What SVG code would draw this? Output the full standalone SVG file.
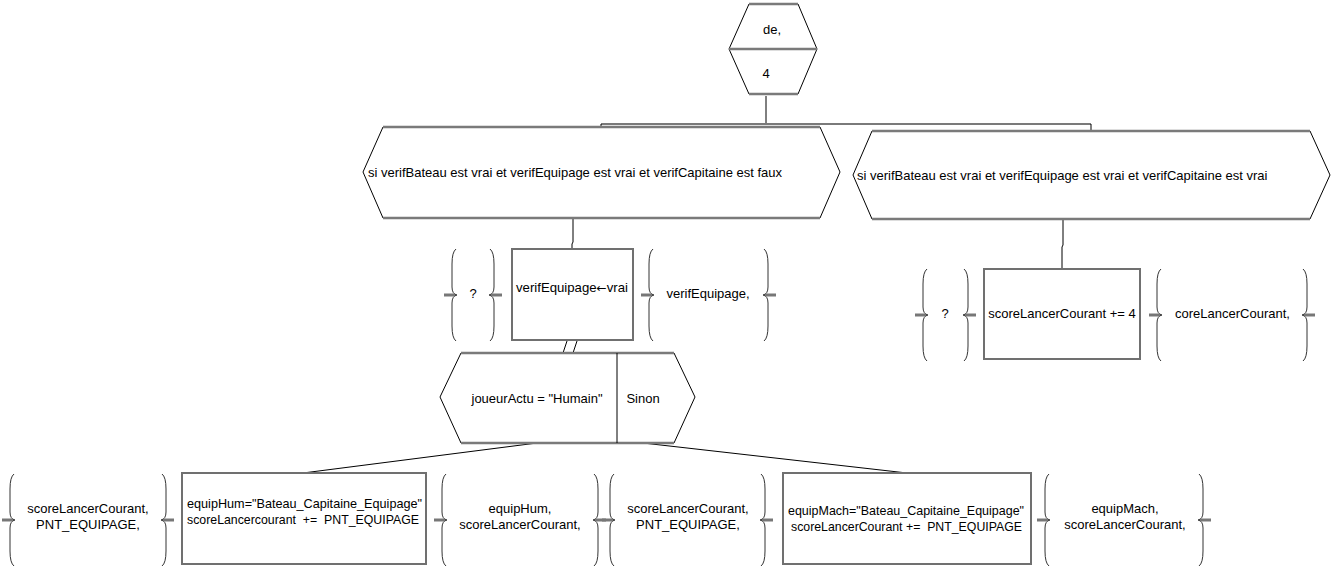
<svg xmlns="http://www.w3.org/2000/svg" width="1342" height="568" viewBox="0 0 1342 568">
<style>
text{font-family:"Liberation Sans",Arial,sans-serif;font-size:13px;fill:#000}
.m{text-anchor:middle}
.ar{font-family:"DejaVu Sans",sans-serif;font-size:12px}
.side{fill:#fff;stroke:#000;stroke-width:1}
.edge{stroke:#7a7a7a;stroke-width:2.5;fill:none}
.box{fill:#fff;stroke:#707070;stroke-width:2}
.br{fill:none;stroke:#333;stroke-width:1}
.dash{stroke:#777;stroke-width:3}
.c{fill:none;stroke:#000;stroke-width:1}
.cg{fill:none;stroke:#7a7a7a;stroke-width:2}
</style>
<defs>
<g id="lb"><path class="br" d="M4,0 Q0,3 0,15 L0,38 Q0,45 5,46 Q0,47 0,54 L0,77 Q0,89 4,92"/><line class="dash" x1="-8" y1="46" x2="3" y2="46"/></g>
</defs>
<rect width="1342" height="568" fill="#fff"/>
<g id="connectors">
<line class="c" x1="766" y1="96" x2="766" y2="124"/>
<line class="cg" x1="601" y1="124" x2="1091" y2="124"/>
<line class="c" x1="601" y1="124" x2="601" y2="127"/>
<line class="c" x1="1091" y1="124" x2="1091" y2="131"/>
<polyline class="c" points="573,219 573,242 572,244 572,249"/>
<polyline class="c" points="1063,220 1063,245 1062,247 1062,269"/>
<line class="c" x1="567" y1="341" x2="563" y2="353"/>
<line class="c" x1="577" y1="341" x2="573" y2="353"/>
<line class="c" x1="537" y1="443" x2="303" y2="473"/>
<line class="c" x1="643" y1="443" x2="907" y2="473"/>
</g>
<g id="start">
<polygon class="side" points="749,4 798,4 817,49 798,94 749,94 729,49"/>
<line class="edge" x1="749" y1="4" x2="798" y2="4"/>
<line class="edge" x1="729" y1="49" x2="817" y2="49"/>
<line class="edge" x1="749" y1="94" x2="798" y2="94"/>
<text class="m" x="772" y="34">de,</text>
<text class="m" x="766" y="78">4</text>
</g>
<g id="cond1">
<polygon class="side" points="383,127 820,127 840,172 820,218 383,218 363,172"/>
<line class="edge" x1="383" y1="127" x2="820" y2="127"/>
<line class="edge" x1="383" y1="218" x2="820" y2="218"/>
<text x="368" y="177">si verifBateau est vrai et verifEquipage est vrai et verifCapitaine est faux</text>
</g>
<g id="cond2">
<polygon class="side" points="872,131 1310,131 1330,175 1310,219 872,219 853,175"/>
<line class="edge" x1="872" y1="131" x2="1310" y2="131"/>
<line class="edge" x1="872" y1="219" x2="1310" y2="219"/>
<text x="857" y="180">si verifBateau est vrai et verifEquipage est vrai et verifCapitaine est vrai</text>
</g>
<g id="in1">
<use href="#lb" transform="translate(452,249)"/>
<use href="#lb" transform="translate(494,249) scale(-1,1)"/>
<text class="m" x="473" y="298">?</text>
</g>
<g id="assign1">
<rect class="box" x="512" y="249" width="121" height="91"/>
<text x="516" y="292" textLength="112" lengthAdjust="spacingAndGlyphs">verifEquipage<tspan class="ar">←</tspan>vrai</text>
</g>
<g id="out1">
<use href="#lb" transform="translate(649,249)"/>
<use href="#lb" transform="translate(768,249) scale(-1,1)"/>
<text class="m" x="708" y="298">verifEquipage,</text>
</g>
<g id="in2">
<use href="#lb" transform="translate(923,269)"/>
<use href="#lb" transform="translate(968,269) scale(-1,1)"/>
<text class="m" x="945" y="318">?</text>
</g>
<g id="assign2">
<rect class="box" x="984" y="269" width="156" height="90"/>
<text class="m" x="1062" y="318">scoreLancerCourant += 4</text>
</g>
<g id="out2">
<use href="#lb" transform="translate(1157,269)"/>
<use href="#lb" transform="translate(1307,269) scale(-1,1)"/>
<text x="1175" y="318">coreLancerCourant,</text>
</g>
<g id="cond3">
<polygon class="side" points="461,353 674,353 695,397 674,443 461,443 440,397"/>
<line class="edge" x1="461" y1="353" x2="674" y2="353"/>
<line class="edge" x1="461" y1="443" x2="674" y2="443"/>
<line class="c" x1="617" y1="353" x2="617" y2="443"/>
<text class="m" x="537" y="403">joueurActu = "Humain"</text>
<text class="m" x="643" y="403">Sinon</text>
</g>
<g id="in3">
<use href="#lb" transform="translate(10,474)"/>
<use href="#lb" transform="translate(166,474) scale(-1,1)"/>
<text class="m" x="88" y="513">scoreLancerCourant,</text>
<text class="m" x="88" y="529">PNT_EQUIPAGE,</text>
</g>
<g id="assign3">
<rect class="box" x="182" y="473" width="244" height="91"/>
<text x="187" y="508" textLength="235" lengthAdjust="spacingAndGlyphs">equipHum="Bateau_Capitaine_Equipage"</text>
<text x="187" y="524" textLength="232" lengthAdjust="spacingAndGlyphs" xml:space="preserve">scoreLancercourant  +=  PNT_EQUIPAGE</text>
</g>
<g id="out3">
<use href="#lb" transform="translate(442,474)"/>
<use href="#lb" transform="translate(598,474) scale(-1,1)"/>
<text class="m" x="520" y="513">equipHum,</text>
<text class="m" x="520" y="529">scoreLancerCourant,</text>
</g>
<g id="in4">
<use href="#lb" transform="translate(610,474)"/>
<use href="#lb" transform="translate(765,474) scale(-1,1)"/>
<text class="m" x="688" y="513">scoreLancerCourant,</text>
<text class="m" x="688" y="529">PNT_EQUIPAGE,</text>
</g>
<g id="assign4">
<rect class="box" x="783" y="473" width="248" height="91"/>
<text x="788" y="515" textLength="236" lengthAdjust="spacingAndGlyphs">equipMach="Bateau_Capitaine_Equipage"</text>
<text x="791" y="531" textLength="231" lengthAdjust="spacingAndGlyphs" xml:space="preserve">scoreLancerCourant +=  PNT_EQUIPAGE</text>
</g>
<g id="out4">
<use href="#lb" transform="translate(1045,474)"/>
<use href="#lb" transform="translate(1203,474) scale(-1,1)"/>
<text class="m" x="1125" y="513">equipMach,</text>
<text class="m" x="1125" y="529">scoreLancerCourant,</text>
</g>
</svg>
